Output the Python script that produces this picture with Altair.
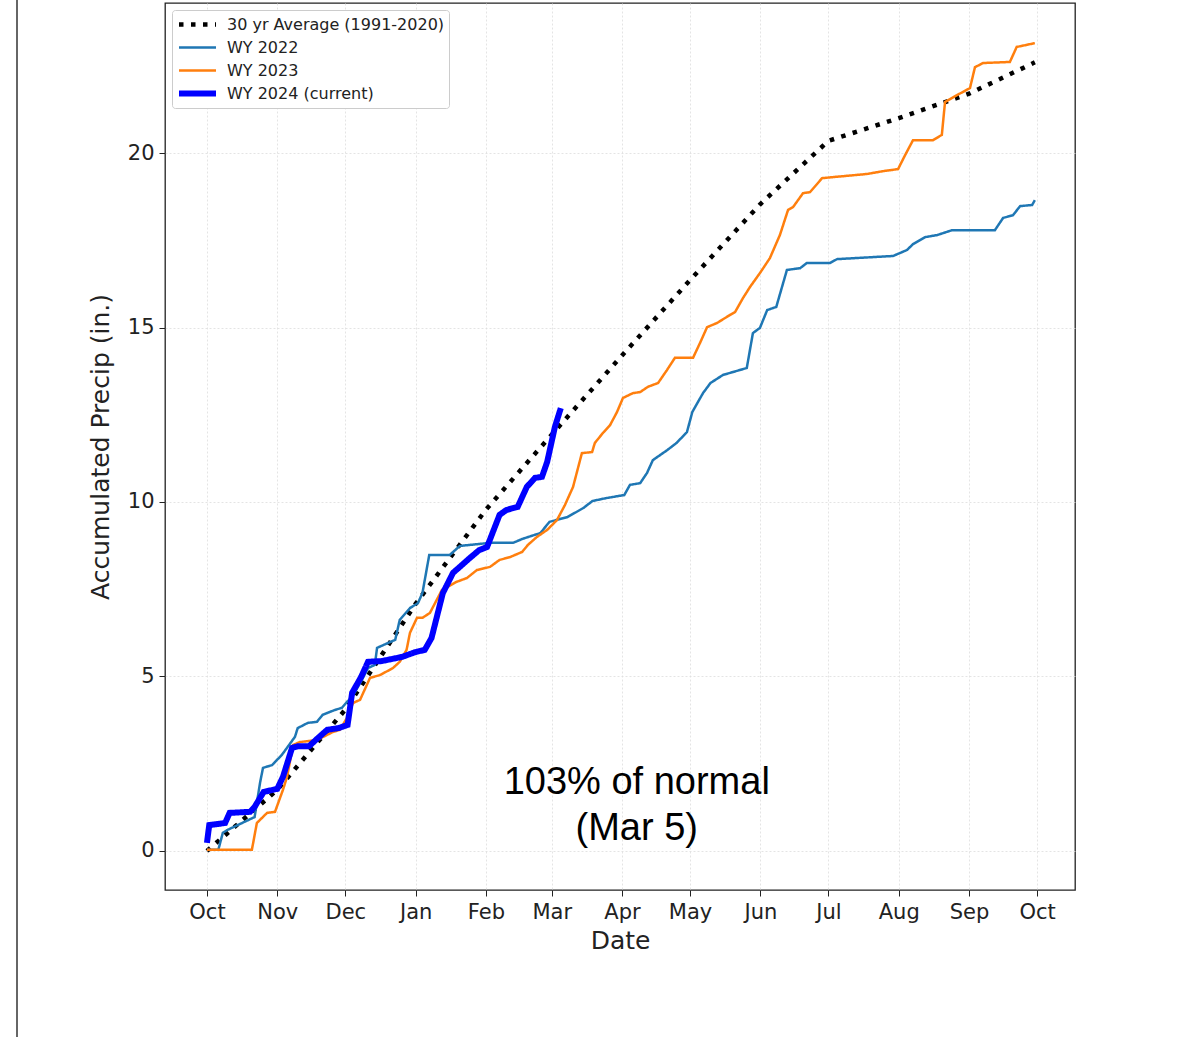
import altair as alt
import pandas as pd

# Water year starts on Oct 1; offsets below are days since that date.
WY_START = pd.Timestamp("2023-10-01")

SERIES = ["30 yr Average (1991-2020)", "WY 2022", "WY 2023", "WY 2024 (current)"]
COLORS = ["#000000", "#1f77b4", "#ff7f0e", "#0000ff"]

avg_days = [0, 31, 61, 92, 123, 152, 183, 213, 244, 274, 305, 336, 365]
avg_vals = [0.0, 1.75, 4.05, 7.08, 9.78, 11.93, 14.2, 16.36, 18.54, 20.35, 21.0, 21.7, 22.6]

wy2022_days = [0, 5, 7, 9, 21, 23.4, 24.7, 28.7, 33, 38.8, 40, 44.5, 48.5, 51, 56.4, 59.5,
               61.7, 64, 68.3, 71, 74, 75, 83, 85, 89.5, 93, 95, 98, 107, 111.5, 125, 135,
               139, 147, 151, 159, 166, 170, 176, 184, 186.5, 191, 194, 196.6, 203, 207,
               211.6, 214, 218.7, 222, 227.5, 238, 240.7, 243.8, 247, 251, 255.7, 261.5,
               264.5, 274.7, 277.8, 302.5, 308.6, 311.3, 316.6, 322, 328.5, 347.4, 351,
               355.4, 358.5, 363.8, 365]
wy2022_vals = [0.03, 0.03, 0.52, 0.6, 0.97, 1.95, 2.38, 2.46, 2.75, 3.27, 3.52, 3.67, 3.7,
               3.9, 4.04, 4.1, 4.27, 4.41, 4.9, 5.24, 5.33, 5.82, 6.05, 6.62, 6.96, 7.1,
               7.39, 8.48, 8.48, 8.74, 8.83, 8.83, 8.94, 9.11, 9.43, 9.57, 9.83, 10.03,
               10.11, 10.2, 10.49, 10.54, 10.83, 11.2, 11.49, 11.69, 12.0, 12.58, 13.12,
               13.41, 13.64, 13.84, 14.84, 14.99, 15.5, 15.59, 16.65, 16.7, 16.85, 16.85,
               16.96, 17.05, 17.22, 17.39, 17.59, 17.65, 17.79, 17.79, 18.14, 18.22, 18.48,
               18.51, 18.65]

wy2023_days = [0, 19.8, 22, 26.5, 30, 33.5, 35.3, 38, 41, 48.5, 55.6, 58.6, 61.7, 64.4,
               67.5, 71.9, 76.3, 82, 85, 88, 89.5, 92.6, 95, 98.3, 103.6, 110, 114.6, 119,
               124.8, 129, 133.6, 139, 141.5, 145.5, 150, 154.3, 157.8, 161.4, 165.3,
               169.8, 171, 174.6, 177.7, 180.8, 183.4, 187.8, 191, 194.4, 198.9, 202.8,
               206.3, 214.3, 217.4, 220.5, 224.9, 230.6, 232.8, 236.3, 239.4, 243.8, 248.2,
               252.6, 256.2, 258.4, 262.8, 265.9, 271.2, 276, 291, 298, 304.7, 307.8,
               311.3, 320.1, 324, 325.4, 330.7, 336.4, 338.6, 342.2, 354, 357, 365]
wy2023_vals = [0.03, 0.03, 0.8, 1.09, 1.12, 1.75, 2.12, 3.04, 3.12, 3.18, 3.41, 3.47, 3.81,
               4.24, 4.33, 4.96, 5.04, 5.24, 5.42, 5.76, 6.25, 6.68, 6.68, 6.82, 7.48, 7.71,
               7.82, 8.05, 8.14, 8.34, 8.42, 8.57, 8.77, 9.0, 9.2, 9.48, 9.91, 10.43, 11.4,
               11.43, 11.69, 11.98, 12.2, 12.58, 12.98, 13.12, 13.15, 13.3, 13.41, 13.78,
               14.13, 14.13, 14.56, 15.01, 15.13, 15.36, 15.44, 15.84, 16.16, 16.56, 16.99,
               17.65, 18.37, 18.45, 18.85, 18.88, 19.28, 19.31, 19.4, 19.48, 19.54, 19.94,
               20.37, 20.37, 20.52, 21.46, 21.66, 21.86, 22.46, 22.58, 22.61, 23.04, 23.15]

wy2024_days = [0, 1, 8, 10, 19, 21, 25, 31, 33.5, 37.5, 40, 45, 49, 53, 58, 62, 64, 68, 71,
               77, 86, 92, 96, 99, 104, 108.5, 116, 120, 123.5, 129, 132, 137, 141, 144.6,
               147.7, 150, 153.4, 156]
wy2024_vals = [0.23, 0.74, 0.8, 1.09, 1.12, 1.26, 1.69, 1.78, 2.12, 2.95, 3.0, 3.0, 3.24,
               3.47, 3.52, 3.61, 4.53, 4.99, 5.42, 5.44, 5.56, 5.7, 5.76, 6.1, 7.39, 7.97,
               8.4, 8.62, 8.71, 9.63, 9.77, 9.86, 10.43, 10.69, 10.72, 11.15, 12.15, 12.69]

# Month tick marks (first of each month) across the water year
TICK_MONTHS = [(2023, 10), (2023, 11), (2023, 12), (2024, 1), (2024, 2), (2024, 3),
               (2024, 4), (2024, 5), (2024, 6), (2024, 7), (2024, 8), (2024, 9),
               (2024, 10)]

NOTE_LINES = ["103% of normal", "(Mar 5)"]
NOTE_DAY = 189.5
NOTE_VALUE = 1.95


def to_iso(days):
    return [(WY_START + pd.to_timedelta(d, unit="D")).strftime("%Y-%m-%dT%H:%M:%S") for d in days]


frames = []
for name, days, vals in [
    (SERIES[0], avg_days, avg_vals),
    (SERIES[1], wy2022_days, wy2022_vals),
    (SERIES[2], wy2023_days, wy2023_vals),
    (SERIES[3], wy2024_days, wy2024_vals),
]:
    frames.append(pd.DataFrame({"date": to_iso(days), "precip": vals, "series": name,
                                "step": range(len(days))}))
df = pd.concat(frames, ignore_index=True)

x_domain = [alt.DateTime(year=2023, month=9, date=12, hours=12),
            alt.DateTime(year=2024, month=10, date=17, hours=17)]
tick_values = [alt.DateTime(year=y, month=m, date=1) for y, m in TICK_MONTHS]

FONT = "DejaVu Sans"

x_enc = alt.X(
    "date:T",
    scale=alt.Scale(domain=x_domain),
    axis=alt.Axis(title="Date", values=tick_values, format="%b", labelFontSize=21,
                  titleFontSize=25, labelPadding=5, titlePadding=6, tickSize=6,
                  labelFlush=False, labelOverlap=False),
)
y_enc = alt.Y(
    "precip:Q",
    scale=alt.Scale(domain=[-1.12, 24.3], nice=False, zero=False),
    axis=alt.Axis(title="Accumulated Precip (in.)", values=[0, 5, 10, 15, 20],
                  labelFontSize=21, titleFontSize=25, labelPadding=5, titlePadding=14,
                  tickSize=6),
)

legend = alt.Legend(title=None, orient="top-left", offset=7, symbolType="stroke",
                    symbolSize=1369, clipHeight=21, rowPadding=2, labelFontSize=16,
                    labelFont=FONT, labelColor="#222222", labelOffset=8, padding=4,
                    labelLimit=400, strokeColor="#cccccc", fillColor="#ffffff",
                    cornerRadius=3, symbolStrokeColor="#000000")

lines = alt.Chart(df).mark_line(strokeCap="butt", clip=True).encode(
    x=x_enc,
    y=y_enc,
    color=alt.Color("series:N", scale=alt.Scale(domain=SERIES, range=COLORS), legend=legend),
    strokeDash=alt.StrokeDash("series:N",
                              scale=alt.Scale(domain=SERIES,
                                              range=[[4.5, 7.5], [1, 0], [1, 0], [1, 0]]),
                              legend=legend),
    strokeWidth=alt.StrokeWidth("series:N",
                                scale=alt.Scale(type="ordinal", domain=SERIES,
                                                range=[4.5, 2.5, 2.5, 6]),
                                legend=legend),
    order="step:Q",
    detail="series:N",
)

note_df = pd.DataFrame({"date": to_iso([NOTE_DAY]), "precip": [NOTE_VALUE],
                        "label": [NOTE_LINES]})
note = alt.Chart(note_df).mark_text(font="Liberation Sans", fontSize=38, lineHeight=46,
                                    align="center", baseline="middle", color="#000000").encode(
    x="date:T", y="precip:Q", text="label"
)

# thin frame line along the left edge of the figure
edge = alt.Chart(df).mark_rule(color="#666666", strokeWidth=2).encode(
    x=alt.value(-148), y=alt.value(-3), y2=alt.value(1034)
)

chart = alt.layer(lines, note, edge).properties(
    width=910, height=887,
    autosize=alt.AutoSizeParams(type="none"),
    padding={"left": 165, "top": 3, "right": 102, "bottom": 147},
).configure_view(
    stroke="#222222", strokeWidth=1.3
).configure_axis(
    labelFont=FONT, titleFont=FONT, labelColor="#222222", titleColor="#222222",
    tickColor="#222222", domain=False, grid=True, gridColor="#dddddd",
    gridDash=[2, 2], gridWidth=0.8, titleFontWeight="normal",
)

chart.save("out.html", embed_options={"renderer": "svg", "actions": False})
